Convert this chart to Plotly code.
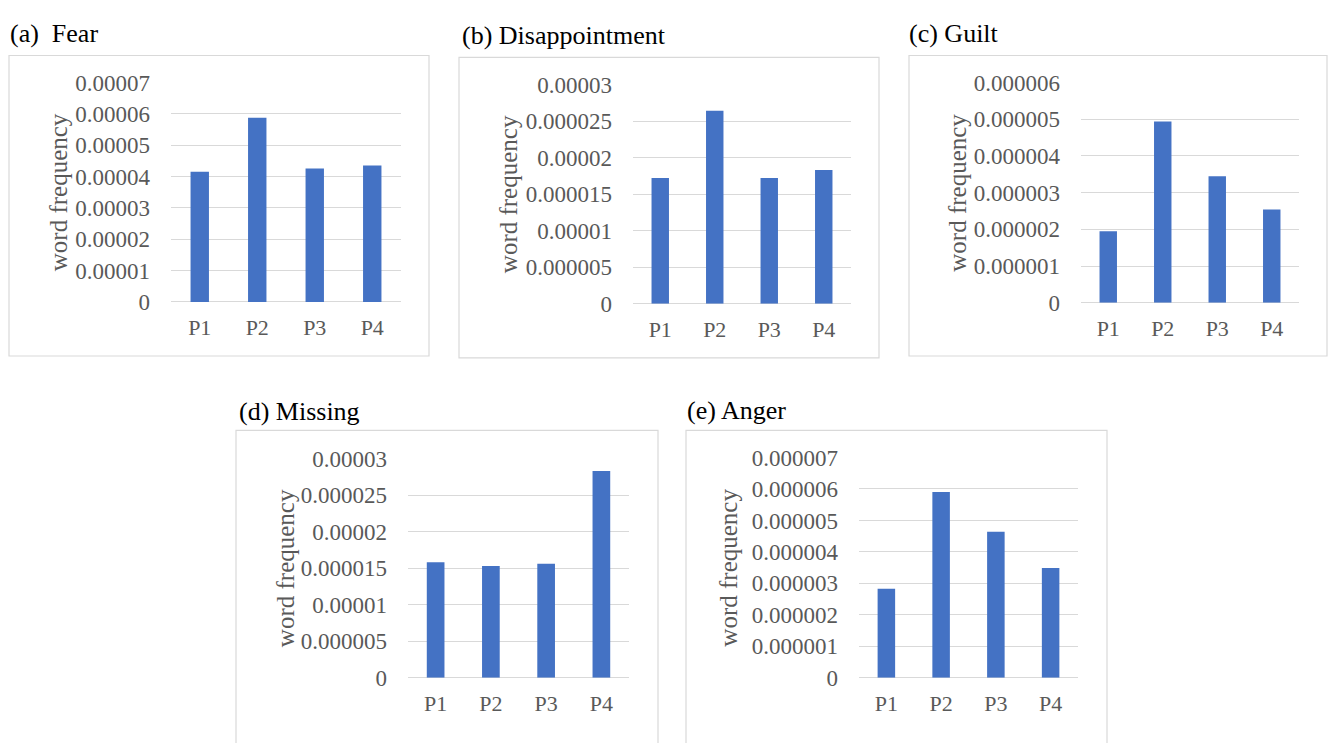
import plotly.graph_objects as go

W, H = 1328, 743

periods = ["P1", "P2", "P3", "P4"]

fear = [0.0000415, 0.0000588, 0.0000426, 0.0000435]
disappointment = [0.0000172, 0.0000264, 0.0000172, 0.0000183]
guilt = [0.00000195, 0.00000494, 0.00000345, 0.00000254]
missing = [0.0000158, 0.0000153, 0.0000156, 0.0000283]
anger = [0.00000283, 0.0000059, 0.00000464, 0.00000349]

fear_ticks = ["0", "0.00001", "0.00002", "0.00003", "0.00004", "0.00005", "0.00006", "0.00007"]
half_ticks = ["0", "0.000005", "0.00001", "0.000015", "0.00002", "0.000025", "0.00003"]
guilt_ticks = ["0", "0.000001", "0.000002", "0.000003", "0.000004", "0.000005", "0.000006"]
anger_ticks = ["0", "0.000001", "0.000002", "0.000003", "0.000004", "0.000005", "0.000006", "0.000007"]

# panel: title, values, tick labels, tick step, frame box, plot box (pixels)
panels = [
    dict(title="(a)  Fear", values=fear, ticks=fear_ticks, step=0.00001,
         frame=(9, 45, 429, 356), plot=(171, 73, 401, 300), tpos=(8, 22), ytx=58),
    dict(title="(b) Disappointment", values=disappointment, ticks=half_ticks, step=0.000005,
         frame=(459, 47, 879, 358), plot=(633, 75, 851, 302), tpos=(460, 24), ytx=508),
    dict(title="(c) Guilt", values=guilt, ticks=guilt_ticks, step=0.000001,
         frame=(909, 45, 1327, 356), plot=(1081, 73, 1299, 301), tpos=(907, 22), ytx=958),
    dict(title="(d) Missing", values=missing, ticks=half_ticks, step=0.000005,
         frame=(236, 433, 658, 760), plot=(408, 462, 629, 689), tpos=(237, 413), ytx=285),
    dict(title="(e) Anger", values=anger, ticks=anger_ticks, step=0.000001,
         frame=(686, 433, 1107, 760), plot=(859, 461, 1078, 689), tpos=(685, 412), ytx=729),
]


def px(x):
    return x / W


def py(y):
    return 1 - y / H


BAR = "#4472C4"
GRID = "#d9d9d9"
TICK = "#595959"
FONT = "Liberation Serif"

fig = go.Figure()
shapes = []
annotations = []

for i, p in enumerate(panels):
    n = "" if i == 0 else str(i + 1)
    fig.add_trace(go.Bar(
        x=periods, y=p["values"], xaxis="x" + n, yaxis="y" + n,
        marker=dict(color=BAR, line=dict(width=0)), width=0.32,
        showlegend=False, hoverinfo="x+y",
    ))
    x0, y0, x1, y1 = p["plot"]
    tickvals = [k * p["step"] for k in range(len(p["ticks"]))]
    fig.update_layout(**{
        "xaxis" + n: dict(
            domain=[px(x0), px(x1)], anchor="y" + n, range=[-0.5, 3.5],
            showgrid=False, showline=False, zeroline=False, ticks="",
            tickfont=dict(family=FONT, size=22, color=TICK),
            ticklabelstandoff=10, fixedrange=True,
        ),
        "yaxis" + n: dict(
            domain=[py(y1), py(y0)], anchor="x" + n,
            range=[0, tickvals[-1]], tickvals=tickvals, ticktext=p["ticks"],
            showgrid=True, gridcolor=GRID, gridwidth=1,
            zeroline=True, zerolinecolor=GRID, zerolinewidth=1,
            showline=False, ticks="",
            tickfont=dict(family=FONT, size=23, color=TICK),
            ticklabelstandoff=20, fixedrange=True,
        ),
    })
    fx0, fy0, fx1, fy1 = p["frame"]
    shapes.append(dict(
        type="rect", xref="paper", yref="paper",
        x0=px(fx0), x1=px(fx1), y0=py(fy1), y1=py(fy0),
        line=dict(color=GRID, width=1.2), fillcolor="rgba(0,0,0,0)", layer="below",
    ))
    tx, ty = p["tpos"]
    annotations.append(dict(
        text=p["title"], xref="paper", yref="paper", x=px(tx), y=py(ty),
        xanchor="left", yanchor="middle", showarrow=False,
        font=dict(family=FONT, size=26, color="#000000"),
    ))
    annotations.append(dict(
        text="word frequency", xref="paper", yref="paper",
        x=px(p["ytx"]), y=py((y0 + y1) / 2), textangle=-90,
        xanchor="center", yanchor="middle", showarrow=False,
        font=dict(family=FONT, size=25, color=TICK),
    ))

fig.update_layout(
    width=W, height=H, margin=dict(l=0, r=0, t=0, b=0),
    paper_bgcolor="#ffffff", plot_bgcolor="#ffffff",
    shapes=shapes, annotations=annotations, bargap=0.68,
)

fig.write_html("out.html", config={"displayModeBar": False})
